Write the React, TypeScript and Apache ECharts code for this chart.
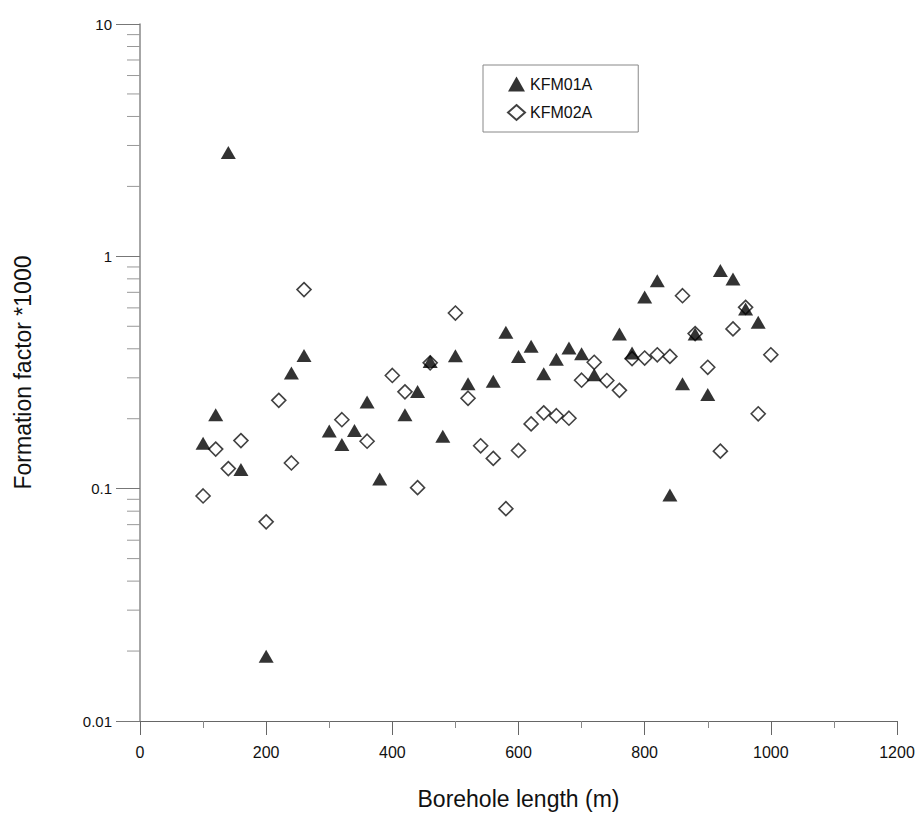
import React, { useEffect, useRef } from "react";
import * as echarts from "echarts";

const kfm01aX = [100, 120, 140, 160, 200, 240, 260, 300, 320, 340, 360, 380, 420, 440, 460, 480, 500, 520, 560, 580, 600, 620, 640, 660, 680, 700, 720, 760, 780, 800, 820, 840, 860, 880, 900, 920, 940, 960, 980];
const kfm01aY = [0.157, 0.208, 2.8, 0.121, 0.019, 0.315, 0.374, 0.177, 0.155, 0.178, 0.236, 0.11, 0.208, 0.262, 0.353, 0.168, 0.373, 0.283, 0.29, 0.471, 0.371, 0.41, 0.312, 0.361, 0.403, 0.381, 0.309, 0.463, 0.384, 0.668, 0.785, 0.094, 0.283, 0.463, 0.254, 0.868, 0.799, 0.593, 0.52];

const kfm02aX = [100, 120, 140, 160, 200, 220, 240, 260, 320, 360, 400, 420, 440, 460, 500, 520, 540, 560, 580, 600, 620, 640, 660, 680, 700, 720, 740, 760, 780, 800, 820, 840, 860, 880, 900, 920, 940, 960, 980, 1000];
const kfm02aY = [0.093, 0.148, 0.122, 0.161, 0.072, 0.24, 0.129, 0.719, 0.198, 0.16, 0.307, 0.261, 0.101, 0.348, 0.57, 0.245, 0.153, 0.135, 0.082, 0.146, 0.19, 0.212, 0.206, 0.201, 0.293, 0.35, 0.292, 0.265, 0.363, 0.365, 0.377, 0.371, 0.677, 0.465, 0.333, 0.145, 0.487, 0.603, 0.21, 0.377];

const seriesNames = ["KFM01A", "KFM02A"];
const xAxisTitle = "Borehole length (m)";
const yAxisTitle = "Formation factor *1000";
const decades = [0.01, 0.1, 1];
const minorMultipliers = [2, 3, 4, 5, 6, 7, 8, 9];

export default function App() {
  const ref = useRef<HTMLDivElement>(null);
  useEffect(() => {
    if (!ref.current) return;
    const chart = echarts.init(ref.current, null, { renderer: "svg" });
    const minorVals: number[][] = [];
    decades.forEach((d) => minorMultipliers.forEach((m) => minorVals.push([0, +(d * m).toPrecision(3)])));
    const font = "Liberation Sans, Arial, sans-serif";
    chart.setOption({
      animation: false,
      backgroundColor: "#fff",
      textStyle: { fontFamily: font },
      grid: { left: 140, right: 23, top: 24, bottom: 105, containLabel: false },
      legend: {
        data: [
          { name: seriesNames[0], icon: "triangle" },
          { name: seriesNames[1], icon: "diamond" },
        ],
        orient: "vertical",
        left: 483,
        top: 65,
        borderColor: "#888",
        borderWidth: 1,
        padding: [11, 46, 11, 24],
        itemGap: 12,
        itemWidth: 17,
        itemHeight: 15,
        textStyle: { fontSize: 16, color: "#111", fontFamily: font },
      },
      xAxis: {
        type: "value",
        min: 0,
        max: 1200,
        interval: 200,
        name: xAxisTitle,
        nameLocation: "middle",
        nameGap: 66,
        nameTextStyle: { fontSize: 23, color: "#111", fontFamily: font },
        axisLine: { show: true, lineStyle: { color: "#666", width: 1 } },
        axisTick: { show: true, inside: false, length: 14, lineStyle: { color: "#666" } },
        minorTick: { show: true, splitNumber: 2, length: 7, lineStyle: { color: "#888" } },
        splitLine: { show: false },
        axisLabel: { fontSize: 16, color: "#111", margin: 23, fontFamily: font, formatter: (v: number) => String(v) },
      },
      yAxis: {
        type: "log",
        logBase: 10,
        min: 0.01,
        max: 10,
        name: yAxisTitle,
        nameLocation: "middle",
        nameGap: 106,
        nameRotate: 90,
        nameTextStyle: { fontSize: 23, color: "#111", fontFamily: font },
        axisLine: { show: true, lineStyle: { color: "#888", width: 1.5 } },
        axisTick: { show: true, inside: false, length: 24, lineStyle: { color: "#777" } },
        splitLine: { show: false },
        axisLabel: {
          fontSize: 15,
          color: "#111",
          margin: 28,
          fontFamily: font,
          formatter: (v: number) => (v >= 1 ? String(Math.round(v)) : String(+v.toPrecision(1))),
        },
      },
      series: [
        {
          name: seriesNames[0],
          type: "scatter",
          symbol: "triangle",
          symbolSize: [15, 13],
          itemStyle: { color: "#000" },
          data: kfm01aX.map((x, i) => [x, kfm01aY[i]]),
          z: 3,
        },
        {
          name: seriesNames[1],
          type: "scatter",
          symbol: "diamond",
          symbolSize: 14,
          itemStyle: { color: "#fff", borderColor: "#111", borderWidth: 1.6 },
          data: kfm02aX.map((x, i) => [x, kfm02aY[i]]),
          z: 2,
        },
        {
          name: "minorTicks",
          type: "custom",
          silent: true,
          clip: false,
          data: minorVals,
          renderItem: (params: any, api: any) => {
            const p = api.coord([0, api.value(1)]);
            return {
              type: "line",
              shape: { x1: p[0] - 13, y1: p[1], x2: p[0], y2: p[1] },
              style: { stroke: "#999", lineWidth: 1 },
            };
          },
        },
      ],
    });
    return () => chart.dispose();
  }, []);
  return <div ref={ref} style={{ position: "fixed", left: 0, top: 0, width: 920, height: 826 }} />;
}
